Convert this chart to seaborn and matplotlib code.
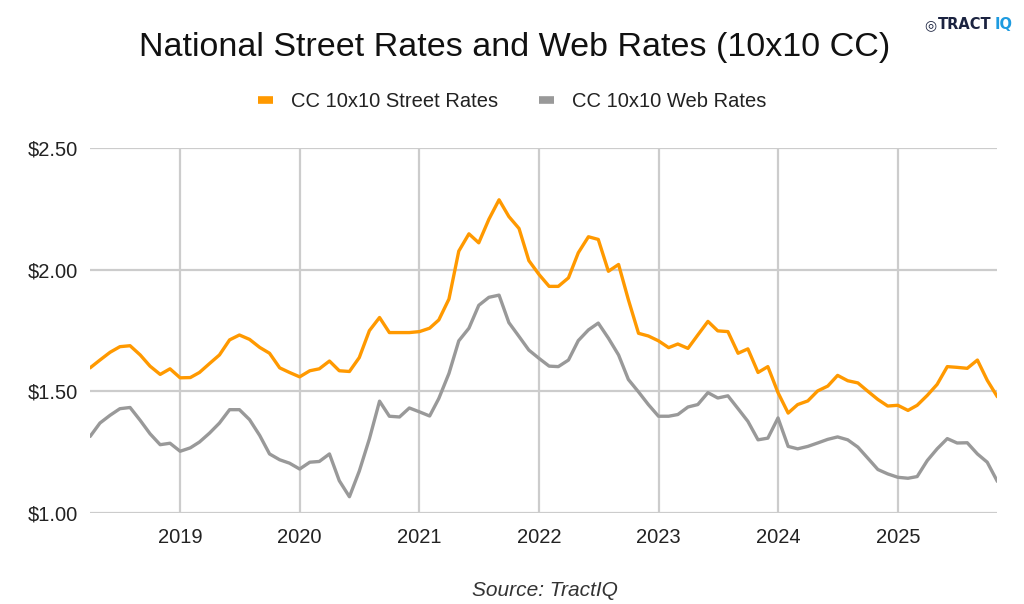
import pandas as pd
import seaborn as sns
import numpy as np
import matplotlib.pyplot as plt
import matplotlib.dates as mdates

# monthly values, Apr 2018 - Nov 2025
street_rates = [
    1.596, 1.628, 1.660, 1.683, 1.687, 1.649, 1.603, 1.569, 1.592,
    1.555, 1.556, 1.577, 1.614, 1.649, 1.711, 1.731, 1.713, 1.680, 1.656, 1.596, 1.577,
    1.559, 1.584, 1.592, 1.624, 1.584, 1.581, 1.638, 1.749, 1.803, 1.741, 1.741, 1.741,
    1.745, 1.759, 1.793, 1.879, 2.076, 2.147, 2.110, 2.207, 2.287, 2.218, 2.169, 2.037,
    1.980, 1.931, 1.931, 1.966, 2.069, 2.135, 2.124, 1.993, 2.021, 1.876, 1.738, 1.727,
    1.707, 1.679, 1.694, 1.676, 1.731, 1.787, 1.748, 1.745, 1.656, 1.674, 1.577, 1.601,
    1.494, 1.410, 1.445, 1.460, 1.501, 1.521, 1.565, 1.543, 1.534, 1.500, 1.466, 1.439,
    1.442, 1.421, 1.442, 1.483, 1.528, 1.601, 1.598, 1.594, 1.628, 1.545, 1.477,
]
web_rates = [
    1.314, 1.369, 1.401, 1.428, 1.433, 1.380, 1.325, 1.280, 1.286,
    1.253, 1.267, 1.291, 1.328, 1.369, 1.424, 1.424, 1.383, 1.318, 1.242, 1.218, 1.204,
    1.180, 1.208, 1.211, 1.242, 1.132, 1.066, 1.171, 1.304, 1.459, 1.397, 1.394, 1.431,
    1.415, 1.398, 1.470, 1.573, 1.707, 1.759, 1.853, 1.886, 1.895, 1.782, 1.725, 1.669,
    1.635, 1.603, 1.601, 1.628, 1.708, 1.752, 1.780, 1.718, 1.649, 1.548, 1.497, 1.445,
    1.397, 1.397, 1.404, 1.435, 1.445, 1.494, 1.472, 1.481, 1.428, 1.376, 1.300, 1.307,
    1.390, 1.273, 1.263, 1.273, 1.287, 1.302, 1.312, 1.300, 1.270, 1.225, 1.178, 1.160,
    1.146, 1.142, 1.149, 1.215, 1.263, 1.305, 1.287, 1.288, 1.242, 1.208, 1.129,
]
months = pd.date_range("2018-04-01", periods=len(street_rates), freq="MS")
series_names = ["CC 10x10 Street Rates", "CC 10x10 Web Rates"]
colors = ["#FF9900", "#999999"]
y_ticks = [1.00, 1.50, 2.00, 2.50]

df = pd.DataFrame({"month": months, series_names[0]: street_rates, series_names[1]: web_rates})
df_long = df.melt(id_vars="month", var_name="series", value_name="rate")

sns.set_theme(style="white")
plt.rcParams["font.family"] = ["Liberation Sans", "DejaVu Sans"]

fig = plt.figure(figsize=(10.24, 6.04), dpi=100)
ax = fig.add_axes([0.088, 0.151, 0.886, 0.604])

sns.lineplot(data=df_long, x="month", y="rate", hue="series", palette=colors,
             hue_order=series_names, linewidth=2.4, ax=ax, legend=False)

ax.set_xlim(months[0], months[-1])
ax.set_ylim(1.0, 2.5)
ax.set_yticks(y_ticks)
ax.set_yticklabels([f"${v:.2f}" for v in y_ticks])
ax.xaxis.set_major_locator(mdates.YearLocator())
ax.xaxis.set_major_formatter(mdates.DateFormatter("%Y"))
ax.grid(True, color="#CCCCCC", linewidth=1.6)
ax.set_axisbelow(True)
for s in ax.spines.values():
    s.set_visible(False)
ax.tick_params(axis="both", length=0, labelsize=14.5, colors="#222222")
ax.tick_params(axis="y", pad=9)
ax.tick_params(axis="x", pad=11)
ax.set_xlabel("")
ax.set_ylabel("")

# legend
handles = [plt.Line2D([], [], color=c, linewidth=5.5, solid_capstyle="butt") for c in colors]
fig.legend(handles, series_names, loc="center", bbox_to_anchor=(0.5, 0.832), ncol=2,
           frameon=False, fontsize=14.5, handlelength=0.75, columnspacing=2.0,
           handletextpad=0.9, labelcolor="#222222")

fig.text(0.503, 0.921, "National Street Rates and Web Rates (10x10 CC)", ha="center", va="center",
         fontsize=24.5, color="#111111")
fig.text(0.532, 0.023, "Source: TractIQ", ha="center", va="center", fontsize=15,
         style="italic", color="#333333")

# logo
icon = fig.text(0.903, 0.959, "◎", ha="left", va="center", fontsize=10, fontweight="bold",
                color="#1B2340", family="DejaVu Sans")
tract = ax.annotate("TRACT", xy=(1, 0.5), xycoords=icon, xytext=(1, 0), textcoords="offset points",
                    ha="left", va="center", fontsize=10.5, fontweight="bold", color="#1B2340",
                    family="DejaVu Sans", annotation_clip=False)
ax.annotate("IQ", xy=(1, 0.5), xycoords=tract, xytext=(2, 0), textcoords="offset points",
            ha="left", va="center", fontsize=10.5, fontweight="bold", color="#1E9BE0",
            family="DejaVu Sans", annotation_clip=False)

fig.savefig("out.png", dpi=100)
